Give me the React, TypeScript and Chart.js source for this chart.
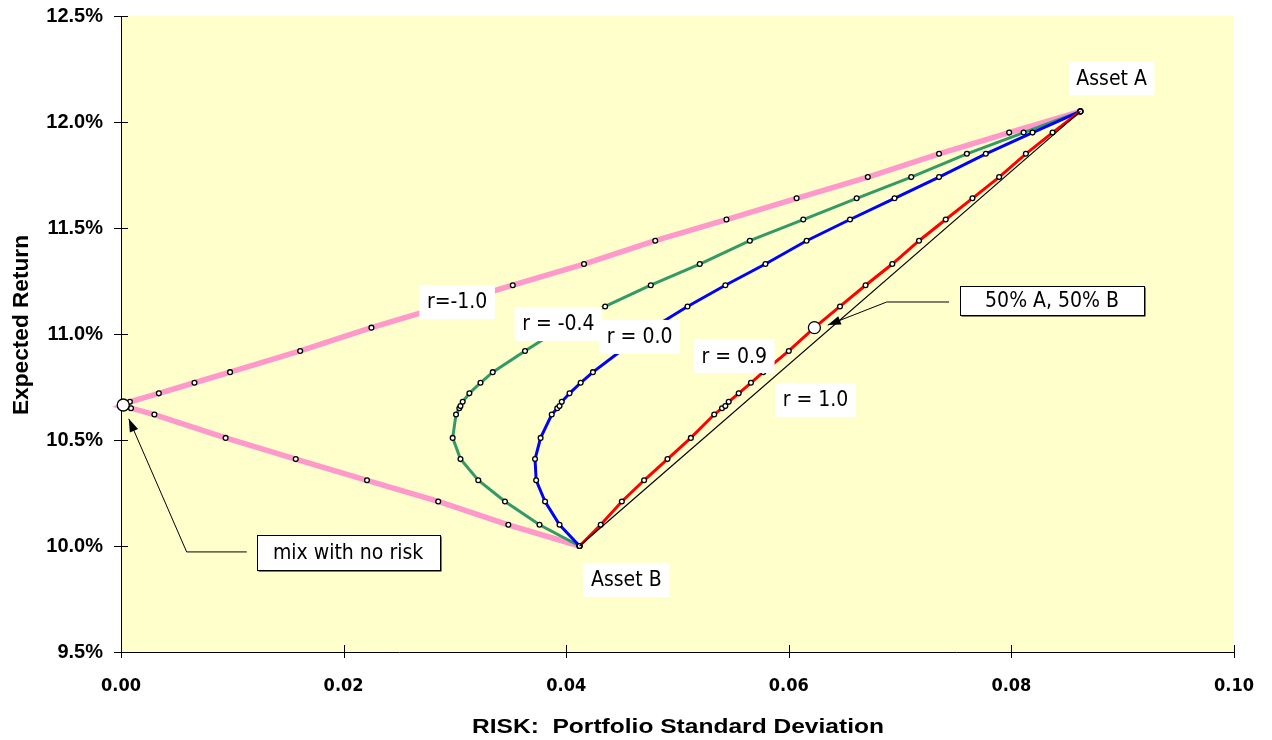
import React, { useEffect, useRef } from 'react';
import { Chart, registerables } from 'chart.js';

Chart.register(...registerables);

// Expected return (%) of each mix (same mixes on every curve)
const expectedReturn = [
  10.0, 10.1, 10.21, 10.31, 10.41, 10.51, 10.62, 10.65, 10.66, 10.68, 10.72, 10.77, 10.82,
  10.92, 11.03, 11.13, 11.23, 11.33, 11.44, 11.54, 11.64, 11.74, 11.85, 11.95, 12.05,
];
// Portfolio standard deviation for each correlation
const riskRhoMinus10 = [
  0.0412, 0.0348, 0.0285, 0.0221, 0.0157, 0.0094, 0.003, 0.0009, 0.0, 0.0008, 0.0034, 0.0066, 0.0098,
  0.0161, 0.0225, 0.0289, 0.0352, 0.0416, 0.048, 0.0544, 0.0607, 0.0671, 0.0735, 0.0798, 0.0862,
];
const riskRhoMinus04 = [
  0.0412, 0.0376, 0.0345, 0.0321, 0.0305, 0.0298, 0.0301, 0.0304, 0.0305, 0.0307, 0.0313, 0.0323, 0.0334,
  0.0363, 0.0396, 0.0435, 0.0476, 0.052, 0.0565, 0.0613, 0.0661, 0.071, 0.076, 0.0811, 0.0862,
];
const riskRho00 = [
  0.0412, 0.0394, 0.0381, 0.0373, 0.0372, 0.0377, 0.0387, 0.0392, 0.0394, 0.0396, 0.0403, 0.0413, 0.0424,
  0.0449, 0.0478, 0.0509, 0.0543, 0.0579, 0.0616, 0.0655, 0.0695, 0.0735, 0.0777, 0.0819, 0.0862,
];
const riskRho09 = [
  0.0412, 0.0431, 0.045, 0.047, 0.0491, 0.0512, 0.0533, 0.054, 0.0543, 0.0546, 0.0555, 0.0566, 0.0577,
  0.06, 0.0623, 0.0646, 0.0669, 0.0693, 0.0717, 0.0741, 0.0765, 0.0789, 0.0813, 0.0837, 0.0862,
];
// r = 1.0 straight line between the two assets
const riskRho10 = [0.0412, 0.0862];
const returnRho10 = [10.0, 12.05];
// highlighted portfolios
const noRiskRisk = [0.0002];
const noRiskReturn = [10.665];
const halfHalfRisk = [0.0623];
const halfHalfReturn = [11.03];

const xTickValues = [0, 0.02, 0.04, 0.06, 0.08, 0.1];
const yTickValues = [9.5, 10, 10.5, 11, 11.5, 12, 12.5];

const toPoints = (xs: number[], ys: number[]) => xs.map((x, i) => ({ x, y: ys[i] }));

// annotation layout (data coordinates)
const plainLabels = [
  { text: 'Asset A', x: 0.089, y: 12.207 },
  { text: 'Asset B', x: 0.0454, y: 9.84 },
  { text: 'r=-1.0', x: 0.0302, y: 11.151 },
  { text: 'r = -0.4', x: 0.0393, y: 11.047 },
  { text: 'r = 0.0', x: 0.0466, y: 10.986 },
  { text: 'r = 0.9', x: 0.0551, y: 10.896 },
  { text: 'r = 1.0', x: 0.0624, y: 10.689 },
];
const boxedLabels = [
  { text: 'mix with no risk', x: 0.0204, y: 9.967, w: 183, h: 35 },
  { text: '50% A, 50% B', x: 0.08365, y: 11.16, w: 184, h: 29 },
];
const arrowPaths = [
  [[0.0113, 9.972], [0.0059, 9.972], [0.0007, 10.6]],
  [[0.0744, 11.151], [0.0688, 11.151], [0.0635, 11.042]],
];

let labelFont = '19px "DejaVu Sans", sans-serif';
let tickFamily = '"DejaVu Sans", sans-serif';
let tickSize = 17;

function pickFonts() {
  const c = document.createElement('canvas').getContext('2d');
  if (!c) return;
  const s = 'mix with no risk 0.04';
  c.font = '40px "DejaVu Sans Condensed", monospace';
  const a = c.measureText(s).width;
  c.font = '40px monospace';
  const b = c.measureText(s).width;
  if (Math.abs(a - b) > 1) {
    labelFont = '21px "DejaVu Sans Condensed", "DejaVu Sans", sans-serif';
    tickFamily = '"DejaVu Sans Condensed", "DejaVu Sans", sans-serif';
    tickSize = 18;
  }
}

function drawStretched(ctx: CanvasRenderingContext2D, text: string, x: number, y: number, font: string, target: number, rotate: boolean) {
  ctx.save();
  ctx.font = font;
  const w = ctx.measureText(text).width;
  ctx.translate(x, y);
  if (rotate) ctx.rotate(-Math.PI / 2);
  ctx.scale(target / w, 1);
  ctx.textAlign = 'center';
  ctx.textBaseline = 'alphabetic';
  ctx.fillStyle = '#000';
  ctx.fillText(text, 0, 0);
  ctx.restore();
}

const plotBg = {
  id: 'plotBg',
  beforeDraw(chart: any) {
    const { ctx, chartArea: a } = chart;
    ctx.save();
    ctx.fillStyle = '#FFFFCC';
    ctx.fillRect(a.left, a.top, a.right - a.left, a.bottom - a.top);
    ctx.restore();
  },
  beforeDatasetsDraw(chart: any) {
    const { ctx, chartArea: a, scales } = chart;
    ctx.save();
    ctx.strokeStyle = '#000';
    ctx.lineWidth = 1;
    ctx.beginPath();
    yTickValues.forEach((v) => {
      const py = Math.round(scales.y.getPixelForValue(v)) + 0.5;
      ctx.moveTo(a.left - 7, py);
      ctx.lineTo(a.left + 7, py);
    });
    xTickValues.forEach((v) => {
      const px = Math.round(scales.x.getPixelForValue(v)) + 0.5;
      ctx.moveTo(px, a.bottom - 7);
      ctx.lineTo(px, a.bottom + 6);
    });
    ctx.stroke();
    ctx.restore();
  },
};

const decorations = {
  id: 'decorations',
  afterDatasetsDraw(chart: any) {
    const { ctx, scales } = chart;
    const X = (v: number) => scales.x.getPixelForValue(v);
    const Y = (v: number) => scales.y.getPixelForValue(v);
    ctx.save();
    arrowPaths.forEach((path) => {
      const pts = path.map(([x, y]) => [X(x), Y(y)]);
      ctx.strokeStyle = '#000';
      ctx.lineWidth = 1;
      ctx.beginPath();
      ctx.moveTo(pts[0][0], pts[0][1]);
      for (let i = 1; i < pts.length; i++) ctx.lineTo(pts[i][0], pts[i][1]);
      ctx.stroke();
      const [tx, ty] = pts[pts.length - 1];
      const [fx, fy] = pts[pts.length - 2];
      const ang = Math.atan2(ty - fy, tx - fx);
      const len = 13;
      const hw = 4.5;
      const bx = tx - len * Math.cos(ang);
      const by = ty - len * Math.sin(ang);
      ctx.fillStyle = '#000';
      ctx.beginPath();
      ctx.moveTo(tx, ty);
      ctx.lineTo(bx + hw * Math.sin(ang), by - hw * Math.cos(ang));
      ctx.lineTo(bx - hw * Math.sin(ang), by + hw * Math.cos(ang));
      ctx.closePath();
      ctx.fill();
    });
    ctx.font = labelFont;
    ctx.textAlign = 'center';
    ctx.textBaseline = 'middle';
    plainLabels.forEach((l) => {
      const cx = X(l.x);
      const cy = Y(l.y);
      const w = ctx.measureText(l.text).width + 15;
      const h = 34;
      ctx.fillStyle = '#fff';
      ctx.fillRect(cx - w / 2, cy - h / 2, w, h);
      ctx.fillStyle = '#000';
      ctx.fillText(l.text, cx, cy + 1);
    });
    boxedLabels.forEach((l) => {
      const cx = X(l.x);
      const cy = Y(l.y);
      const x0 = Math.round(cx - l.w / 2) + 0.5;
      const y0 = Math.round(cy - l.h / 2) + 0.5;
      ctx.fillStyle = '#000';
      ctx.fillRect(x0 + 1, y0 + 1, l.w, l.h);
      ctx.fillStyle = '#fff';
      ctx.fillRect(x0, y0, l.w, l.h);
      ctx.strokeStyle = '#000';
      ctx.lineWidth = 1;
      ctx.strokeRect(x0, y0, l.w, l.h);
      ctx.fillStyle = '#000';
      ctx.fillText(l.text, cx, cy + 1);
    });
    ctx.restore();
  },
  afterDraw(chart: any) {
    const { ctx, chartArea: a } = chart;
    drawStretched(ctx, 'RISK:  Portfolio Standard Deviation', a.left + 557, a.bottom + 81, 'bold 21px "Liberation Sans", Arial, sans-serif', 412, false);
    drawStretched(ctx, 'Expected Return', a.left - 93.5, a.top + 309, 'bold 22px "Liberation Sans", Arial, sans-serif', 180, true);
  },
};

export default function App() {
  const ref = useRef<HTMLCanvasElement>(null);
  useEffect(() => {
    const canvas = ref.current;
    if (!canvas) return;
    pickFonts();
    const curve = {
      showLine: true,
      tension: 0,
      pointRadius: 2.4,
      pointBorderWidth: 1.3,
      pointBackgroundColor: '#ffffff',
      pointBorderColor: '#000000',
      clip: false as const,
      fill: false,
    };
    const bigDot = {
      showLine: false,
      pointRadius: 6,
      pointBorderWidth: 1.3,
      pointBackgroundColor: '#ffffff',
      pointBorderColor: '#000000',
      clip: false as const,
    };
    const chart = new Chart(canvas, {
      type: 'scatter',
      data: {
        datasets: [
          { ...curve, label: 'r=-1.0', data: toPoints(riskRhoMinus10, expectedReturn), borderColor: '#FF99CC', borderWidth: 5.5, order: 6 },
          { ...curve, label: 'r = -0.4', data: toPoints(riskRhoMinus04, expectedReturn), borderColor: '#339966', borderWidth: 3, order: 5 },
          { ...curve, label: 'r = 0.0', data: toPoints(riskRho00, expectedReturn), borderColor: '#0000FF', borderWidth: 3, order: 4 },
          { ...curve, label: 'r = 0.9', data: toPoints(riskRho09, expectedReturn), borderColor: '#FF0000', borderWidth: 3, order: 3 },
          { showLine: true, label: 'r = 1.0', data: toPoints(riskRho10, returnRho10), borderColor: '#000000', borderWidth: 1.2, pointRadius: 0, clip: false as const, order: 2 },
          { ...bigDot, label: 'mix with no risk', data: toPoints(noRiskRisk, noRiskReturn), order: 1 },
          { ...bigDot, label: '50% A, 50% B', data: toPoints(halfHalfRisk, halfHalfReturn), order: 0 },
        ],
      },
      options: {
        responsive: true,
        maintainAspectRatio: false,
        animation: false,
        events: [],
        layout: { padding: { left: 0, right: 38, top: 16, bottom: 0 } },
        plugins: { legend: { display: false }, tooltip: { enabled: false } },
        scales: {
          x: {
            type: 'linear',
            min: 0,
            max: 0.1,
            afterBuildTicks: (s: any) => {
              s.ticks = xTickValues.map((v) => ({ value: v }));
            },
            afterFit: (s: any) => {
              s.height = 88;
              s.paddingLeft = 0;
              s.paddingRight = 0;
            },
            grid: { display: false, drawTicks: false },
            border: { display: true, color: '#000', width: 1 },
            ticks: {
              padding: 24,
              color: '#000',
              maxRotation: 0,
              autoSkip: false,
              font: { family: tickFamily, size: tickSize, weight: 'bold' },
              callback: (v: any) => Number(v).toFixed(2),
            },
          },
          y: {
            type: 'linear',
            min: 9.5,
            max: 12.5,
            afterBuildTicks: (s: any) => {
              s.ticks = yTickValues.map((v) => ({ value: v }));
            },
            afterFit: (s: any) => {
              s.width = 121;
              s.paddingTop = 0;
              s.paddingBottom = 0;
            },
            grid: { display: false, drawTicks: false },
            border: { display: true, color: '#000', width: 1 },
            ticks: {
              padding: 18,
              color: '#000',
              autoSkip: false,
              font: { family: '"Liberation Sans", Arial, sans-serif', size: 20, weight: 'bold' },
              callback: (v: any) => Number(v).toFixed(1) + '%',
            },
          },
        },
      },
      plugins: [plotBg, decorations],
    });
    return () => chart.destroy();
  }, []);
  return (
    <div style={{ position: 'fixed', left: 0, top: 0, width: 1272, height: 740 }}>
      <canvas ref={ref} />
    </div>
  );
}
